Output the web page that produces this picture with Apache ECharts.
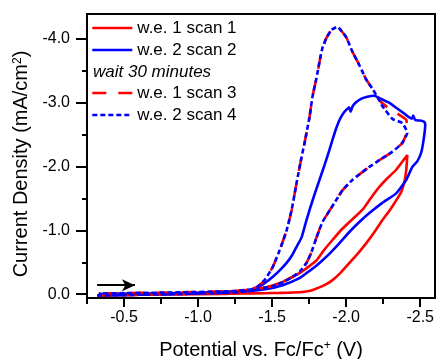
<!DOCTYPE html>
<html>
<head>
<meta charset="utf-8">
<script src="https://cdn.jsdelivr.net/npm/echarts@6/dist/echarts.min.js"></script>
<style>
  html, body { margin: 0; padding: 0; background: #fff; }
  #chart { width: 437px; height: 359px; }
</style>
</head>
<body>
<div id="chart"></div>
<script>
// Cyclic voltammograms: [potential (V vs Fc/Fc+), current density (mA/cm2)]
const scan1 = [
  [-0.32, 0.02], [-0.6, 0.01], [-1.0, 0.0], [-1.3, -0.01], [-1.45, -0.015], [-1.55, -0.02],
  [-1.685, -0.03], [-1.75, -0.05], [-1.80, -0.09], [-1.86, -0.15], [-1.908, -0.22], [-1.96, -0.33],
  [-2.022, -0.49], [-2.08, -0.64], [-2.136, -0.80], [-2.19, -0.97], [-2.244, -1.16], [-2.29, -1.30],
  [-2.33, -1.44], [-2.372, -1.60], [-2.395, -1.78], [-2.406, -1.95], [-2.413, -2.18],
  [-2.338, -1.95], [-2.28, -1.82], [-2.224, -1.68], [-2.165, -1.50], [-2.109, -1.32], [-2.022, -1.13],
  [-1.96, -0.99], [-1.908, -0.85], [-1.85, -0.69], [-1.80, -0.53], [-1.74, -0.42], [-1.685, -0.33],
  [-1.62, -0.25], [-1.571, -0.19], [-1.463, -0.11], [-1.348, -0.06], [-1.1, -0.03], [-0.7, -0.01],
  [-0.33, 0.0]
];
const scan2 = [
  [-0.32, 0.02], [-0.6, 0.01], [-1.0, -0.01], [-1.25, -0.03], [-1.35, -0.06], [-1.416, -0.12],
  [-1.46, -0.19], [-1.503, -0.27], [-1.55, -0.37], [-1.598, -0.49], [-1.635, -0.61], [-1.665, -0.74],
  [-1.699, -0.89], [-1.725, -1.10], [-1.753, -1.32], [-1.786, -1.56], [-1.820, -1.79], [-1.855, -2.03],
  [-1.887, -2.26], [-1.908, -2.42], [-1.93, -2.58], [-1.955, -2.73], [-1.98, -2.83], [-2.002, -2.89],
  [-2.02, -2.93], [-2.03, -2.86], [-2.045, -2.95], [-2.069, -3.01], [-2.10, -3.06], [-2.136, -3.09],
  [-2.19, -3.11], [-2.244, -3.05], [-2.29, -3.00], [-2.338, -2.92], [-2.38, -2.85], [-2.426, -2.77],
  [-2.445, -2.75], [-2.453, -2.80], [-2.466, -2.73], [-2.50, -2.72], [-2.527, -2.70], [-2.534, -2.66],
  [-2.525, -2.45], [-2.507, -2.22], [-2.48, -2.08], [-2.446, -1.99], [-2.406, -1.79], [-2.338, -1.58],
  [-2.244, -1.43], [-2.157, -1.27], [-2.089, -1.13], [-2.02, -0.97], [-1.955, -0.80], [-1.89, -0.64],
  [-1.820, -0.49], [-1.75, -0.36], [-1.685, -0.25], [-1.571, -0.14], [-1.463, -0.08], [-1.348, -0.05],
  [-1.0, -0.02], [-0.33, 0.0]
];
const scan3 = [
  [-0.32, 0.02], [-0.6, 0.01], [-1.0, -0.01], [-1.25, -0.03], [-1.33, -0.05], [-1.396, -0.11],
  [-1.449, -0.22], [-1.503, -0.42], [-1.551, -0.69], [-1.598, -1.00], [-1.632, -1.32], [-1.665, -1.74],
  [-1.699, -2.15], [-1.719, -2.37], [-1.753, -2.78], [-1.773, -3.10], [-1.80, -3.39], [-1.820, -3.64],
  [-1.840, -3.86], [-1.868, -4.02], [-1.901, -4.14], [-1.941, -4.19], [-1.97, -4.12], [-2.002, -4.02],
  [-2.042, -3.80], [-2.089, -3.59], [-2.136, -3.36], [-2.177, -3.22], [-2.224, -3.04], [-2.278, -2.93],
  [-2.359, -2.81], [-2.406, -2.73], [-2.413, -2.57], [-2.379, -2.37], [-2.311, -2.23], [-2.224, -2.10],
  [-2.136, -1.96], [-2.042, -1.79], [-1.976, -1.63], [-1.921, -1.43], [-1.840, -1.13], [-1.80, -0.89],
  [-1.766, -0.66], [-1.732, -0.49], [-1.685, -0.35], [-1.638, -0.27], [-1.530, -0.14], [-1.416, -0.09],
  [-1.25, -0.05], [-0.9, -0.03], [-0.33, -0.01]
];
const scan4 = [
  [-0.32, 0.02], [-0.6, 0.01], [-1.0, -0.01], [-1.25, -0.03], [-1.33, -0.05], [-1.396, -0.11],
  [-1.449, -0.22], [-1.503, -0.42], [-1.551, -0.69], [-1.598, -1.00], [-1.632, -1.32], [-1.665, -1.74],
  [-1.699, -2.15], [-1.719, -2.37], [-1.753, -2.78], [-1.773, -3.10], [-1.80, -3.39], [-1.820, -3.64],
  [-1.840, -3.86], [-1.868, -4.02], [-1.901, -4.14], [-1.941, -4.19], [-1.97, -4.12], [-2.002, -4.02],
  [-2.042, -3.80], [-2.089, -3.59], [-2.136, -3.36], [-2.177, -3.22], [-2.224, -3.04], [-2.244, -2.95],
  [-2.311, -2.75], [-2.379, -2.68], [-2.413, -2.53], [-2.379, -2.37], [-2.311, -2.23], [-2.224, -2.10],
  [-2.136, -1.96], [-2.042, -1.79], [-1.976, -1.63], [-1.921, -1.43], [-1.840, -1.13], [-1.80, -0.89],
  [-1.766, -0.66], [-1.732, -0.49], [-1.685, -0.35], [-1.638, -0.27], [-1.530, -0.14], [-1.416, -0.09],
  [-1.25, -0.05], [-0.9, -0.03], [-0.33, -0.01]
];

// Scan direction arrow (start, end)
const arrowFrom = [-0.318, -0.14];
const arrowTo = [-0.574, -0.14];

// Axis ticks
const xTicks = [-0.5, -1.0, -1.5, -2.0, -2.5];
const xMinorTicks = [-0.25, -0.75, -1.25, -1.75, -2.25];
const yTicks = [0.0, -1.0, -2.0, -3.0, -4.0];
const yMinorTicks = [-0.5, -1.5, -2.5, -3.5];

const names = ['w.e. 1 scan 1', 'w.e. 2 scan 2', 'w.e. 1 scan 3', 'w.e. 2 scan 4'];
const RED = '#ff0000';
const BLUE = '#0000ff';
const FONT = 'Liberation Sans, Arial, sans-serif';

const chart = echarts.init(document.getElementById('chart'), null, { renderer: 'canvas' });

const xRange = { min: -2.6, max: -0.25 };
const yRange = { min: -4.39, max: 0.06 };

function curve(name, data, color, type) {
  return {
    name: name,
    type: 'line',
    data: data,
    symbol: 'none',
    showSymbol: false,
    smooth: 0.15,
    color: color,
    lineStyle: { color: color, width: 2.6, type: type, cap: 'butt' },
    itemStyle: { color: color },
    emphasis: { disabled: true },
    z: 2
  };
}

const legendCommon = {
  orient: 'vertical',
  left: 91,
  padding: 0,
  itemWidth: 40,
  itemHeight: 14,
  itemGap: 5,
  selectedMode: false,
  textStyle: { fontFamily: FONT, fontSize: 17, color: '#000', padding: [0, 0, 0, 0] },
  itemStyle: { opacity: 0 },
  lineStyle: { width: 2.6 }
};

chart.setOption({
  animation: false,
  backgroundColor: '#fff',
  grid: {
    left: 87, right: 2, top: 14, bottom: 61,
    outerBoundsMode: 'none',
    containLabel: false,
    show: true, borderColor: '#000', borderWidth: 2, backgroundColor: 'transparent'
  },
  legend: [
    Object.assign({}, legendCommon, { top: 19.5, data: [names[0], names[1]] }),
    Object.assign({}, legendCommon, { top: 84.5, data: [names[2], names[3]] })
  ],
  graphic: [{
    type: 'text',
    x: 93, y: 72,
    style: {
      text: 'wait 30 minutes',
      font: 'italic 17px ' + FONT,
      fill: '#000',
      align: 'left',
      verticalAlign: 'middle'
    }
  }],
  xAxis: [{
    type: 'value',
    min: xRange.min, max: xRange.max, inverse: true,
    position: 'bottom',
    axisLine: { show: true, onZero: false, lineStyle: { color: '#000', width: 2 } },
    axisTick: { show: true, inside: false, length: 9, customValues: xTicks, lineStyle: { color: '#000', width: 2 } },
    axisLabel: {
      customValues: xTicks, margin: 12,
      formatter: v => v.toFixed(1),
      fontFamily: FONT, fontSize: 16, color: '#000'
    },
    splitLine: { show: false },
    name: 'Potential vs. Fc/Fc{sup|+} (V)',
    nameLocation: 'middle',
    nameGap: 42,
    nameTextStyle: {
      fontFamily: FONT, fontSize: 20, color: '#000',
      rich: { sup: { fontFamily: FONT, fontSize: 12, color: '#000', verticalAlign: 'top' } }
    }
  }, {
    type: 'value',
    min: xRange.min, max: xRange.max, inverse: true,
    position: 'bottom',
    axisLine: { show: false, onZero: false },
    axisTick: { show: true, inside: false, length: 6, customValues: xMinorTicks, lineStyle: { color: '#000', width: 2 } },
    axisLabel: { show: false },
    splitLine: { show: false }
  }],
  yAxis: [{
    type: 'value',
    min: yRange.min, max: yRange.max, inverse: true,
    position: 'left',
    axisLine: { show: true, onZero: false, lineStyle: { color: '#000', width: 2 } },
    axisTick: { show: true, inside: false, length: 11, customValues: yTicks, lineStyle: { color: '#000', width: 2 } },
    axisLabel: {
      customValues: yTicks, margin: 17,
      formatter: v => v.toFixed(1),
      fontFamily: FONT, fontSize: 16, color: '#000'
    },
    splitLine: { show: false },
    name: 'Current Density (mA/cm{sup|2})',
    nameLocation: 'middle',
    nameGap: 49,
    nameTextStyle: {
      fontFamily: FONT, fontSize: 20, color: '#000',
      padding: [0, 16, 0, 0],
      rich: { sup: { fontFamily: FONT, fontSize: 12, color: '#000', verticalAlign: 'top' } }
    }
  }, {
    type: 'value',
    min: yRange.min, max: yRange.max, inverse: true,
    position: 'left',
    axisLine: { show: false, onZero: false },
    axisTick: { show: true, inside: false, length: 5, customValues: yMinorTicks, lineStyle: { color: '#000', width: 2 } },
    axisLabel: { show: false },
    splitLine: { show: false }
  }],
  series: [
    curve(names[0], scan1, RED, 'solid'),
    curve(names[1], scan2, BLUE, 'solid'),
    curve(names[2], scan3, RED, [14, 12]),
    curve(names[3], scan4, BLUE, [5, 3]),
    {
      type: 'line',
      data: [],
      silent: true,
      markLine: {
        silent: true,
        symbol: ['none', 'arrow'],
        symbolSize: [9, 13],
        label: { show: false },
        lineStyle: { color: '#000', width: 2, type: 'solid' },
        emphasis: { disabled: true },
        data: [[{ coord: arrowFrom }, { coord: arrowTo }]]
      }
    }
  ]
});
</script>
</body>
</html>
